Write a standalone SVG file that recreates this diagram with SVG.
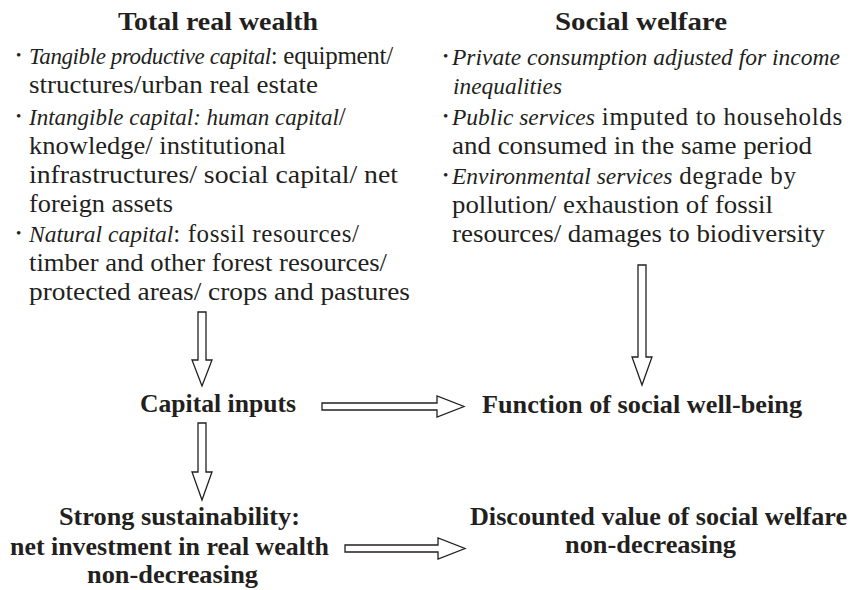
<svg xmlns="http://www.w3.org/2000/svg" width="850" height="590" viewBox="0 0 850 590">
<style>
text{font-family:"Liberation Serif","Times New Roman",serif;font-size:25px;fill:#231f20}
.b{font-weight:bold}
.i{font-style:italic;font-size:23.5px}
.bul{font-size:15px}
.arr{fill:#fff;stroke:#231f20;stroke-width:1.3;stroke-linejoin:miter}
</style>
<rect width="850" height="590" fill="#fff"/>
<g id="total-real-wealth">
<text class="b" x="118" y="30" textLength="200" lengthAdjust="spacingAndGlyphs">Total real wealth</text>
<text class="bul" x="16" y="60">•</text>
<text x="29" y="64"><tspan class="i" style="font-size:23px;letter-spacing:-0.4px">Tangible productive capital</tspan><tspan style="letter-spacing:-0.3px">: equipment/</tspan></text>
<text x="29" y="93" textLength="289" lengthAdjust="spacingAndGlyphs">structures/urban real estate</text>
<text class="bul" x="16" y="121">•</text>
<text x="29" y="125"><tspan class="i" style="font-size:23px">Intangible capital: human capital</tspan>/</text>
<text x="29" y="154" textLength="257" lengthAdjust="spacingAndGlyphs">knowledge/  institutional</text>
<text x="29" y="183" textLength="369" lengthAdjust="spacingAndGlyphs">infrastructures/ social capital/ net</text>
<text x="29" y="212" textLength="144" lengthAdjust="spacingAndGlyphs">foreign assets</text>
<text class="bul" x="16" y="238">•</text>
<text x="29" y="242"><tspan class="i">Natural capital</tspan><tspan style="letter-spacing:0.6px">: fossil resources/</tspan></text>
<text x="29" y="271" textLength="358" lengthAdjust="spacingAndGlyphs">timber and other forest resources/</text>
<text x="29" y="300" textLength="381" lengthAdjust="spacingAndGlyphs">protected areas/ crops and pastures</text>
</g>
<g id="social-welfare">
<text class="b" x="555" y="30" textLength="172" lengthAdjust="spacingAndGlyphs">Social welfare</text>
<text class="bul" x="443" y="61">•</text>
<text class="i" x="452" y="65" textLength="388" lengthAdjust="spacingAndGlyphs">Private consumption adjusted for income</text>
<text class="i" x="453" y="94" textLength="109" lengthAdjust="spacingAndGlyphs">inequalities</text>
<text class="bul" x="443" y="121">•</text>
<text x="452" y="125"><tspan class="i">Public services</tspan><tspan style="letter-spacing:0.7px"> imputed to households</tspan></text>
<text x="452" y="154" textLength="360" lengthAdjust="spacingAndGlyphs">and consumed in the same period</text>
<text class="bul" x="443" y="180">•</text>
<text x="452" y="184"><tspan class="i">Environmental services</tspan><tspan style="letter-spacing:0.7px"> degrade by</tspan></text>
<text x="452" y="213" textLength="321" lengthAdjust="spacingAndGlyphs">pollution/ exhaustion of fossil</text>
<text x="452" y="242" textLength="373" lengthAdjust="spacingAndGlyphs">resources/ damages to biodiversity</text>
</g>
<g id="capital-inputs">
<text class="b" x="140" y="412" textLength="156" lengthAdjust="spacingAndGlyphs">Capital inputs</text>
</g>
<g id="function-social-well-being">
<text class="b" x="482" y="413" textLength="320" lengthAdjust="spacingAndGlyphs">Function of social well-being</text>
</g>
<g id="strong-sustainability">
<text class="b" x="59" y="525" textLength="241" lengthAdjust="spacingAndGlyphs">Strong sustainability:</text>
<text class="b" x="10" y="555" textLength="319" lengthAdjust="spacingAndGlyphs">net investment in real wealth</text>
<text class="b" x="87" y="583" textLength="171" lengthAdjust="spacingAndGlyphs">non-decreasing</text>
</g>
<g id="discounted-value">
<text class="b" x="470" y="525" textLength="377" lengthAdjust="spacingAndGlyphs">Discounted value of social welfare</text>
<text class="b" x="565" y="553" textLength="171" lengthAdjust="spacingAndGlyphs">non-decreasing</text>
</g>
<g id="connectors">
<polygon class="arr" points="198,312 206,312 206,360 212,360 202,386 192,360 198,360"/>
<polygon class="arr" points="638,265 646,265 646,357 652,357 642,385 632,357 638,357"/>
<polygon class="arr" points="198,423 206,423 206,472 212,472 202,500 192,472 198,472"/>
<polygon class="arr" points="322,403 437,403 437,396 464,406.5 437,417 437,410 322,410"/>
<polygon class="arr" points="345,545 438,545 438,538 465,548.5 438,559 438,552 345,552"/>
</g>
</svg>
